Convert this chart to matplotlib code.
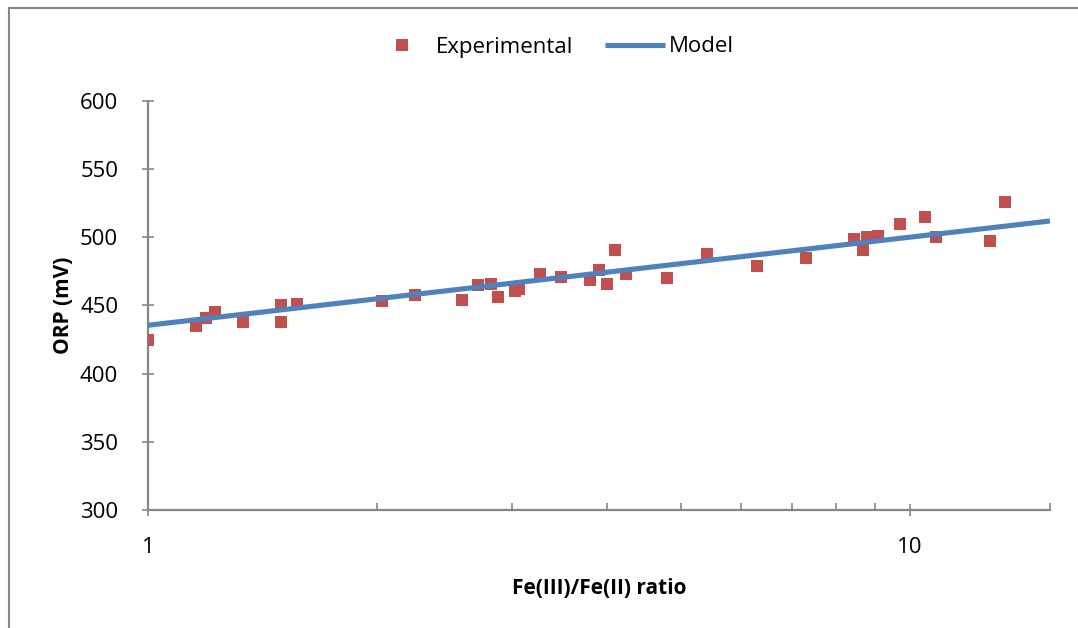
import numpy as np
import matplotlib
matplotlib.use("Agg")
from matplotlib import pyplot as plt
from matplotlib.lines import Line2D
from matplotlib.ticker import FixedLocator, FixedFormatter, NullFormatter

plt.rcParams['font.family'] = ['Open Sans', 'DejaVu Sans']

# experimental points (Fe(III)/Fe(II) ratio, ORP in mV)
ratio = [1.00, 1.156, 1.19, 1.224, 1.332, 1.495, 1.495, 1.57, 2.03, 2.24,
         2.58, 2.71, 2.82, 2.88, 3.03, 3.07, 3.27, 3.48, 3.80, 3.91,
         4.00, 4.10, 4.24, 4.80, 5.42, 6.30, 7.30, 8.44, 8.68, 8.78,
         9.08, 9.70, 10.46, 10.82, 12.74, 13.33]
orp = [425, 435, 441, 445, 438, 450, 438, 451, 453, 458,
       454, 465, 466, 456, 461, 462, 473, 471, 469, 476,
       466, 491, 473, 470, 488, 479, 485, 499, 491, 500,
       501, 510, 515, 500, 497, 526]

# model line end points (straight on log axis)
model_x = [1.0, 15.27]
model_y = [435.5, 512.0]

y_ticks = [300, 350, 400, 450, 500, 550, 600]
x_major = [1, 10]
x_labels = ['1', '10']

red = '#C0504D'
blue = '#4F81BD'
grey = '#868686'

W, H = 1078, 628
fig = plt.figure(figsize=(W / 100, H / 100), dpi=100)
ax = fig.add_axes([148 / W, 1 - 510 / H, 902 / W, 409 / H])

ax.plot(ratio, orp, linestyle='none', marker='s', markersize=9.3,
        color=red, markeredgewidth=0, label='Experimental', zorder=3)
ax.plot(model_x, model_y, color=blue, linewidth=3.7, label='Model',
        solid_capstyle='butt', zorder=4)

ax.set_xscale('log')
ax.set_xlim(1, 15.27)
ax.set_ylim(300, 600)

ax.xaxis.set_major_locator(FixedLocator(x_major))
ax.xaxis.set_major_formatter(FixedFormatter(x_labels))
ax.xaxis.set_minor_locator(FixedLocator([2, 3, 4, 5, 6, 7, 8, 9, 15.27]))
ax.xaxis.set_minor_formatter(NullFormatter())
ax.set_yticks(y_ticks)

for s in ['top', 'right']:
    ax.spines[s].set_visible(False)
for s in ['left', 'bottom']:
    ax.spines[s].set_color(grey)
    ax.spines[s].set_linewidth(1.6)

ax.tick_params(axis='both', which='major', direction='inout', length=9,
               width=1.2, color=grey, labelsize=16)
ax.tick_params(axis='y', which='major', pad=17)
ax.tick_params(axis='x', which='major', pad=15)
ax.tick_params(axis='x', which='minor', direction='in', length=5,
               width=1.2, color=grey)

ax.set_xlabel('Fe(III)/Fe(II) ratio', fontsize=15, fontweight='bold', labelpad=14)
ax.set_ylabel('ORP (mV)', fontsize=15, fontweight='bold', labelpad=4)

fig.legend(loc='center', bbox_to_anchor=(0.513, 1 - 47 / H), ncol=2,
           frameon=False, fontsize=16, handlelength=2.7, handletextpad=0.2,
           columnspacing=1.4, numpoints=1)

# partial border of the chart area (cropped at right and bottom)
fig.add_artist(Line2D([9 / W, 1], [1 - 8 / H, 1 - 8 / H], color=grey,
                      linewidth=1.5, transform=fig.transFigure))
fig.add_artist(Line2D([9 / W, 9 / W], [0, 1 - 8 / H], color=grey,
                      linewidth=1.5, transform=fig.transFigure))

fig.savefig('out.png', dpi=100)
